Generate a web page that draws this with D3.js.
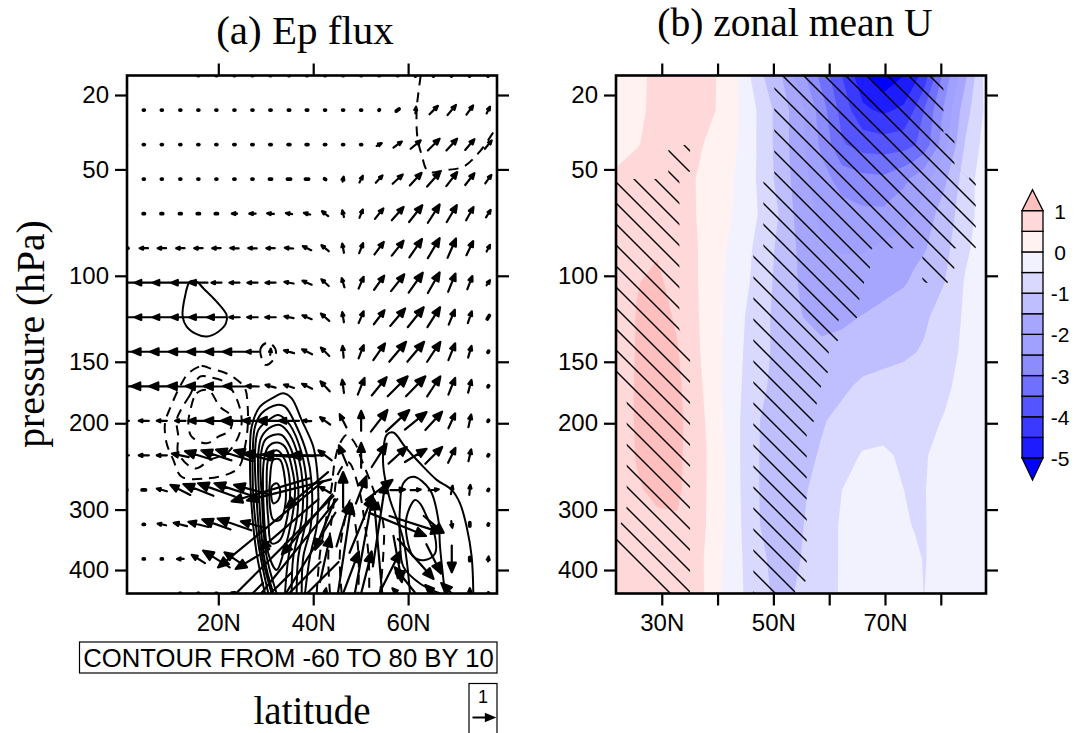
<!DOCTYPE html>
<html>
<head>
<meta charset="utf-8">
<script src="https://d3js.org/d3.v7.min.js"></script>
<style>
  html, body { margin: 0; background: #fff; }
  svg { display: block; }
  text { fill: #000; }
  .sans { font-family: "Liberation Sans", Arial, sans-serif; }
  .serif { font-family: "Liberation Serif", "Times New Roman", serif; }
</style>
</head>
<body>
<div id="chart"></div>
<script>
// Define svg container dimensions
var svgWidth = 1074;
var svgHeight = 733;

// Y axis: the levels are evenly spaced on the page, so everything is read in level index
var pressureTicks = [20, 50, 100, 150, 200, 300, 400];
var pressureTickLevels = [0.565, 2.72, 5.8, 8.29, 10.07, 12.57, 14.32];

// (a) vector columns, latitude
var vectorLats = [0.5, 4.3, 8.1, 12.0, 15.8, 19.6, 23.4, 27.2, 31.0, 34.9, 38.7, 42.5, 46.3, 50.1, 53.9, 57.8, 61.6, 65.4, 69.2, 73.0, 76.9];

// (a) EP flux, one row per level
var n = null;
var uRows = [
    [n, n, n, n, -.03, -.03, -.03, -.03, -.03, -.03, -.03, -.03, -.03, -.03, -.03, -.03, .03, .03, .03, .03, .03],
    [n, -.04, -.04, -.04, -.04, -.04, -.04, -.04, -.05, -.06, -.06, -.04, -.04, -.04, .02, .13, .03, .4, .4, .32, .16],
    [-.04, -.04, -.04, -.04, -.04, -.04, -.05, -.05, -.06, -.08, -.08, -.05, -.04, -.04, .24, .4, .48, .56, .51, .44, .32],
    [-.04, -.04, -.04, -.04, -.04, -.04, -.05, -.05, -.1, -.15, -.15, -.05, .05, .16, .32, .48, .56, .63, .52, .44, .29],
    [-.04, -.06, -.08, -.08, -.1, -.1, -.25, -.3, -.32, -.3, -.3, -.3, -.08, .16, .4, .56, .63, .56, .48, .35, .22],
    [-.2, -.4, -.4, -.4, -.4, -.4, -.4, -.4, -.4, -.4, -.4, -.35, -.08, .19, .44, .56, .6, .56, .4, .32, .16],
    [-.8, -.87, -.87, -.87, -.87, -.48, -.48, -.48, -.48, -.44, -.44, -.35, -.13, .24, .48, .63, .67, .56, .35, .24, .16],
    [-.8, -.87, -.87, -.87, -.87, -.87, -.5, -.5, -.5, -.44, -.44, -.4, -.08, .24, .51, .71, .76, .6, .29, .19, .1],
    [-1.1, -1.1, -1.1, -1.1, -1.1, -1.1, -1.1, -.6, .03, -.48, -.48, -.4, -.05, .24, .56, .8, .8, .63, .32, .16, .03],
    [-1.2, -1.2, -1.2, -1.2, -1.2, -1.2, -1.05, -.6, -.48, -.48, -.48, -.44, -.08, .32, .71, .95, .92, .63, .32, .16, .03],
    [-.3, -.48, -.48, -.5, -.95, -1.1, -1.27, -.95, -1.27, -.95, -.4, -.48, -.32, 0, .79, 1.11, 1.03, .8, .32, .13, .03],
    [-.3, -.48, -.48, -.8, -1.27, -1.43, -1.75, -1.75, -2.6, -2.5, -1.6, -.63, -.4, 0, .71, .87, 1.03, .8, .35, .13, .03],
    [-.1, -.16, -.48, -.95, -1.43, -1.75, -1.9, -1.75, -3.7, -4, -2, -.5, 0, .5, 1.27, .7, .48, .48, .08, .05, .03],
    [n, -.05, -.4, -.63, -.95, -1.35, -1.6, -1.1, -5, -2.8, -2.4, -.95, .63, 1.1, .6, 2.7, 2.5, .95, .05, 0, .02],
    [n, -.05, -.05, -.32, -.63, -1.27, -.95, -1.6, -6, -4.6, -2.7, .48, .8, 1.1, -.5, .4, 1.7, .7, 0, 0, .03],
    [n, n, n, -.05, -.05, -.05, -.3, -1, -2, -3, -3, .1, 1.5, 1, 2, -.5, -2, -.8, -1, 0, .02]
];
var vRows = [
    [n, n, n, n, 0, 0, 0, 0, 0, 0, 0, 0, 0, 0, 0, 0, .05, .05, .05, .05, .05],
    [n, 0, 0, 0, 0, 0, 0, 0, 0, 0, 0, 0, 0, 0, .02, .1, .32, .4, .48, .44, .32],
    [0, 0, 0, 0, 0, 0, 0, 0, 0, 0, 0, 0, 0, 0, .13, .29, .4, .56, .56, .51, .4],
    [0, 0, 0, 0, 0, 0, 0, 0, 0, 0, 0, .03, .24, .32, .35, .44, .6, .71, .67, .56, .4],
    [0, 0, 0, 0, 0, 0, 0, 0, .03, .05, .08, .24, .32, .4, .5, .63, .8, .87, .8, .63, .35],
    [0, 0, 0, 0, 0, 0, .02, .02, 0, .03, .19, .29, .44, .48, .6, .71, .87, .95, .92, .67, .32],
    [0, 0, 0, 0, 0, 0, 0, 0, 0, .08, .19, .32, .44, .56, .67, .8, .95, .98, .87, .63, .24],
    [0, 0, 0, 0, 0, 0, 0, 0, 0, .08, .19, .35, .48, .56, .67, .83, .95, .95, .71, .56, .16],
    [0, 0, 0, 0, 0, 0, 0, 0, .3, .13, .24, .4, .56, .63, .8, .95, .95, .95, .8, .56, .05],
    [0, 0, 0, .02, .02, .02, .02, .02, .13, .16, .24, .48, .63, .8, .87, .95, .95, .95, .8, .6, .05],
    [0, 0, 0, 0, 0, .02, 0, .02, 0, 0, .02, .35, .63, .95, 1.03, 1.03, .83, .87, .71, .6, .05],
    [0, 0, 0, .16, .4, .48, .55, .48, .16, .08, 0, .48, .95, 1.19, 1.11, .79, .63, .8, .71, .56, .05],
    [0, 0, .13, .48, .56, .63, .63, .48, -1.1, -1, -1.7, .3, 1.7, 1.3, .95, .03, .03, .05, .4, .48, .05],
    [n, 0, .08, .16, .24, .48, .56, .3, -4.1, -2.4, -2.86, -2.4, 2.1, 2.7, 4, -1.1, -.8, -.8, -.32, -.16, .05],
    [n, 0, 0, 0, .4, .8, .63, -.95, -6, -5.7, -4.4, 2.2, 5.3, 6, 5.7, -2.2, -1.9, -1.4, -1.27, -.16, .24],
    [n, n, n, 0, 0, 0, .1, -1, -2, -3, -3, .5, 4, 4, 4, .5, 2.5, .8, 1, .5, .05]
];

// (a) zonal wind contours as [latitude, level index]
var solidOpen = [
    [[29.84, 15], [28.08, 13.84], [27.03, 12.49], [26.68, 11.04], [27.03, 10.17], [28.78, 9.59], [31.95, 9.3], [33.7, 9.2], [35.46, 9.35], [37.57, 9.98], [40.02, 10.75], [40.87, 11.52], [41.08, 12.29], [40.73, 13.07], [39.32, 13.93], [38.27, 15]],
    [[30.54, 15], [28.78, 13.84], [27.52, 12.49], [27.24, 11.04], [27.73, 10.17], [29.14, 9.78], [32.3, 9.54], [34.05, 9.59], [36.51, 10.17], [38.62, 10.94], [39.67, 11.81], [39.46, 13.07], [37.92, 13.93], [37.57, 15]],
    [[31.24, 15], [29.14, 13.84], [28.08, 12.29], [27.73, 10.94], [28.43, 10.27], [30.54, 9.98], [32.65, 9.83], [35.1, 10.12], [37.57, 10.94], [38.62, 11.81], [38.48, 12.87], [36.87, 13.93], [36.51, 15]],
    [[31.6, 15], [29.63, 13.93], [28.64, 12.29], [28.43, 10.94], [29.14, 10.46], [31.24, 10.17], [33, 10.12], [35.1, 10.41], [36.87, 11.04], [37.78, 11.81], [37.57, 12.87], [35.81, 13.93], [35.46, 15]],
    [[32.3, 15], [30.05, 13.84], [29.21, 12.29], [28.93, 11.04], [29.84, 10.56], [31.6, 10.41], [33.35, 10.41], [35.1, 10.75], [36.37, 11.33], [36.87, 12], [36.51, 12.87], [34.8, 13.93], [34.05, 15]],
    [[73.74, 15], [73.39, 13.93], [72.34, 13.07], [70.93, 12.39], [69.18, 12], [66.02, 11.71], [62.5, 11.23], [59.34, 10.75], [56.88, 10.34], [55.48, 10.41], [54.78, 10.85], [54.78, 11.33], [55.48, 11.91], [56.2, 12.29], [58.99, 13.45], [60.4, 15]],
    [[67.77, 15], [66.72, 13.64], [66.37, 12.87], [64.61, 12], [61.1, 11.62], [58.99, 11.81], [58.29, 12.49], [58.29, 13.45], [58.99, 14.22], [62.5, 14.71], [66.72, 15]]
];
var solidClosed = [
    [[30.54, 13.84], [29.49, 12.29], [29.63, 11.13], [30.54, 10.75], [32.3, 10.63], [34.05, 10.75], [35.46, 11.33], [36.16, 12], [35.46, 12.87], [33.7, 13.84], [32.3, 14.32]],
    [[30.54, 12.87], [30.19, 11.91], [30.68, 11.04], [32.3, 10.85], [34.05, 11.13], [35.1, 11.81], [34.8, 12.58], [33, 13.45], [31.24, 13.55]],
    [[30.89, 12.49], [30.89, 11.71], [31.6, 11.13], [33, 11.13], [34.05, 11.71], [34.05, 12.49], [33, 12.87], [31.6, 12.87]],
    [[31.24, 11.91], [32.3, 11.81], [33, 12], [32.65, 12.29], [31.6, 12.39]],
    [[61.45, 12.29], [59.7, 12.77], [59.7, 13.35], [61.1, 13.93], [63.56, 14.03], [65.67, 13.84], [65.67, 13.35], [63.91, 12.77], [62.5, 12.39]],
    [[14.03, 5.97], [12.98, 6.4], [12.49, 6.98], [13.33, 7.27], [15.44, 7.49], [17.54, 7.56], [20, 7.42], [21.6, 7.18], [21.76, 6.94], [19.65, 6.55], [16.84, 6.16], [15.44, 5.97]]
];
var dashedOpen = [
    [[62.65, 0], [62.15, .52], [61.8, 1], [61.94, 1.77], [62.85, 2.3], [64.26, 2.78], [67.77, 2.74], [71.64, 2.64], [74.8, 2.25], [77.6, 1.72], [79, 1.39]],
    [[40.73, 15], [41.43, 13.84], [42.83, 12.77], [43.89, 11.91], [44.59, 11.13], [45.65, 10.65], [47.05, 10.41], [48.8, 10.65], [50.2, 11.13], [52.7, 12], [54.8, 13], [54.78, 13.84], [54.08, 15]],
    [[43.54, 15], [43.19, 13.84], [44.24, 12.49], [45.29, 11.52], [47.4, 11.2], [49.5, 11.9], [50.9, 13], [51.7, 14], [51.8, 15]],
    [[46, 15], [45.6, 13.9], [46.6, 12.9], [47.8, 12.3], [49, 13.1], [49.6, 14.1], [49.5, 15]]
];
var dashedClosed = [
    [[30.19, 7.74], [28.93, 7.9], [29.14, 8.19], [29.98, 8.38], [31.24, 8.29], [32.16, 8], [31.24, 7.78]],
    [[13.68, 8.63], [16.49, 8.41], [18.25, 8.48], [21.76, 8.63], [23.52, 8.77], [25.62, 9.06], [26.19, 9.59], [26.19, 10.17], [25.62, 10.75], [24.43, 11.33], [22.46, 11.52], [17.54, 11.67], [12.28, 11.62], [10.52, 11.13], [9.11, 10.65], [8.76, 10.07], [9.82, 9.64], [12.28, 8.91]],
    [[12.28, 9.64], [14.03, 9.25], [16.14, 8.72], [18.25, 8.74], [21.76, 8.91], [24.22, 9.49], [24.92, 10.07], [23.87, 10.56], [21.76, 10.94], [18.25, 11.13], [15.09, 11.38], [11.57, 10.94], [11.57, 10.46], [11.22, 9.98]],
    [[14.03, 9.74], [15.44, 9.2], [17.9, 9.11], [20.35, 9.59], [22.81, 9.88], [22.46, 10.27], [20, 10.46], [17.54, 10.65], [14.38, 10.46], [13.68, 10.07]]
];

// (b) zonal mean U anomaly, rows are levels, columns are gridLats
var gridLats = [21.8, 25.5, 29.2, 32.8, 36.5, 40.2, 43.9, 47.6, 51.3, 54.9, 58.6, 62.3, 66, 69.7, 73.4, 75.2, 77, 80.7, 84.4, 88.1];
var uGrid = [
    [.3, .4, .6, .7, .65, .48, -.05, -.9, -1.45, -2.3, -3.15, -4, -4.85, -5.4, -5, -4.7, -4.3, -2.8, -1.6, -.3],
    [.3, .42, .6, .7, .62, .48, -.02, -.6, -1.25, -1.85, -2.75, -3.7, -4.4, -4.6, -4.4, -4, -3.5, -2.4, -1.2, -.4],
    [.3, .48, .6, .6, .55, .35, -.03, -.6, -1.25, -1.85, -2.6, -3.45, -3.7, -3.75, -3.7, -3.55, -3.3, -2.2, -.95, -.3],
    [.6, .65, .7, .65, .48, .22, -.08, -.6, -1.2, -1.8, -2.3, -2.7, -2.85, -2.9, -2.6, -2.4, -2.15, -1.6, -.75, -.2],
    [.7, .8, .85, .7, .48, .2, -.1, -.55, -1.05, -1.75, -2.1, -2.3, -2.4, -2.4, -2.2, -2, -1.8, -1.25, -.75, -.2],
    [.7, .85, .95, .72, .5, .15, -.25, -.65, -1.15, -1.6, -1.95, -2.05, -2.05, -1.9, -1.75, -1.65, -1.55, -1.15, -.6, -.2],
    [.7, .98, 1.1, .8, .5, .1, -.3, -.7, -1.2, -1.55, -1.7, -1.75, -1.75, -1.7, -1.55, -1.4, -1.25, -1, -.45, -.15],
    [.7, 1.02, 1.15, .95, .52, .1, -.38, -.82, -1.18, -1.48, -1.65, -1.58, -1.48, -1.32, -1.18, -1.13, -1.08, -.78, -.43, -.15],
    [.7, 1.03, 1.2, 1.03, .55, .08, -.42, -.85, -1.15, -1.3, -1.38, -1.35, -1.25, -1.2, -1.1, -1.02, -.95, -.65, -.42, -.15],
    [.7, 1.05, 1.25, 1.1, .62, .08, -.45, -.92, -1.15, -1.25, -1.2, -1.1, -.9, -.8, -.75, -.72, -.7, -.58, -.35, -.1],
    [.7, 1.05, 1.2, 1.12, .7, .12, -.48, -1, -1.15, -1.2, -1.05, -.85, -.75, -.7, -.68, -.65, -.62, -.47, -.3, -.1],
    [.7, 1.03, 1.15, 1.1, .72, .2, -.48, -1.02, -1.15, -1.17, -.95, -.7, -.46, -.42, -.58, -.55, -.52, -.42, -.25, -.1],
    [.7, .95, 1.1, 1.08, .7, .2, -.47, -1.02, -1.15, -1.1, -.8, -.5, -.35, -.35, -.5, -.51, -.51, -.4, -.2, -.1],
    [.6, .75, .9, .95, .7, .18, -.45, -1, -1.1, -1.05, -.72, -.45, -.35, -.3, -.45, -.52, -.52, -.35, -.2, -.1],
    [.6, .7, .75, .8, .65, .1, -.42, -.95, -1.1, -1, -.72, -.45, -.3, -.3, -.38, -.42, -.52, -.35, -.2, -.1],
    [.55, .65, .7, .72, .68, .06, -.4, -.9, -1.1, -.95, -.7, -.45, -.3, -.28, -.35, -.42, -.505, -.3, -.2, -.1]
];

// (b) significant areas as [latitude, level index]
var hatchAreas = [
    [[21.7, 3], [31.18, 3], [31.18, 2.16], [33.99, 2.01], [35.07, 2.01], [35.07, 2.79], [33.16, 2.79], [33.16, 7.37], [35.07, 7.9], [35.07, 15], [21.7, 15], [21.7, 13.21], [23.24, 12.82], [23.72, 12.49], [23.72, 9.11], [21.7, 8.91]],
    [[50.18, 0], [80.47, 0], [80.47, 1.68], [82.44, 1.68], [82.44, 2.59], [86.26, 3.21], [86.26, 5], [82.44, 5], [82.44, 5.58], [81.24, 6], [76.7, 6], [76.7, 5], [75.09, 5], [67.62, 5], [67.33, 5.55], [66.25, 6], [65.41, 6.47], [64.94, 7.03], [61.65, 7.08], [61.65, 7.66], [59.92, 7.97], [59.8, 8.58], [58.54, 9], [57.77, 9.49], [57.29, 10], [55.97, 10.39], [55.97, 14.61], [53.88, 14.95], [53.88, 15], [46.42, 15], [46.42, 5.1], [48.21, 5.1], [48.21, 3.07], [50.18, 3.07]],
    [[85.1, 2.93], [86.26, 2.93], [86.26, 3.2], [85.1, 3.2]]
];

// Colour bar
var bandBreaks = [-5, -4.5, -4, -3.5, -3, -2.5, -2, -1.5, -1, -.5, 0, .5, 1];
var bandColors = ["#0000ff", "#1c1cff", "#3939ff", "#5555ff", "#7070ff", "#8c8cff", "#a0a0ff", "#a6a6ff", "#bfbfff", "#d9d9ff", "#f2f2ff", "#fff2f0", "#ffd9d9", "#ffbfbf"];
var barLabels = [1, 0, -1, -2, -3, -4, -5];

var svg = d3.select("#chart").append("svg")
    .attr("width", svgWidth)
    .attr("height", svgHeight);

var defs = svg.append("defs");

// Scales
var yLevel = d3.scaleLinear().domain([0, 15]).range([75.5, 593.5]);
var yPressure = d3.scaleLinear().domain(pressureTicks).range(pressureTickLevels.map(yLevel));
var xA = d3.scaleLinear().domain([0.76, 78.73]).range([127, 497]);
var xB = d3.scaleLinear().domain([21.8, 88.1]).range([616, 986]);
var vectorScale = d3.scaleLinear().domain([0, 1]).range([0, 21]);
var barScale = d3.scaleLinear().domain([-5, 1]).range([458, 210.7]);

function addClip(id, x) {
    defs.append("clipPath").attr("id", id)
        .append("rect")
        .attr("x", x.range()[0]).attr("y", yLevel(0))
        .attr("width", x.range()[1] - x.range()[0])
        .attr("height", yLevel(15) - yLevel(0));
}
addClip("clipA", xA);
addClip("clipB", xB);

// Arrow outline: shaft plus a head, centred on the grid point
function arrowPath(cx, cy, u, v) {
    var dx = vectorScale(u), dy = -vectorScale(v);
    var len = Math.sqrt(dx * dx + dy * dy) || 1;
    var ux = dx / len, uy = dy / len;
    var tipX = cx + dx / 2, tipY = cy + dy / 2;
    // very short arrows are just a blob, see drawArrows
    if (len < 5) return `M${cx - dx / 2},${cy - dy / 2}L${tipX},${tipY}`;
    var head = Math.max(3.5, Math.min(10.5, len * 0.36));
    var half = head * 0.42;
    var baseX = tipX - ux * head, baseY = tipY - uy * head;
    return `M${cx - dx / 2},${cy - dy / 2}L${baseX},${baseY}` +
        `M${tipX},${tipY}L${baseX - uy * half},${baseY + ux * half}L${baseX + uy * half},${baseY - ux * half}Z`;
}

// Panel (a)
var panelA = svg.append("g");
var plotA = panelA.append("g").attr("clip-path", "url(#clipA)");

var lineA = d3.line().x(d => xA(d[0])).y(d => yLevel(d[1]));

function drawContours(rows, curve, dashed) {
    plotA.selectAll(null)
        .data(rows)
        .enter()
        .append("path")
        .attr("d", lineA.curve(curve))
        .attr("fill", "none")
        .attr("stroke", "#000")
        .attr("stroke-width", 2)
        .attr("stroke-dasharray", dashed ? "10,7" : null);
}
drawContours(solidOpen, d3.curveCatmullRom, false);
drawContours(solidClosed, d3.curveCatmullRomClosed, false);
drawContours(dashedOpen, d3.curveCatmullRom, true);
drawContours(dashedClosed, d3.curveCatmullRomClosed, true);

var arrows = [];
uRows.forEach(function (row, i) {
    row.forEach(function (u, j) {
        if (u === null) return;
        var v = vRows[i][j];
        arrows.push({
            d: arrowPath(xA(vectorLats[j]), yLevel(i), u, v),
            short: Math.sqrt(u * u + v * v) < 5 / 21
        });
    });
});
plotA.selectAll(null)
    .data(arrows)
    .enter()
    .append("path")
    .attr("d", d => d.d)
    .attr("fill", "#000")
    .attr("stroke", "#000")
    .attr("stroke-width", d => d.short ? 3.8 : 2.2)
    .attr("stroke-linecap", "round")
    .attr("stroke-linejoin", "round");

// Panel (b)
var panelB = svg.append("g");
var plotB = panelB.append("g").attr("clip-path", "url(#clipB)");

var gridCol = d3.scaleLinear().domain(d3.range(gridLats.length)).range(gridLats);
var gridPath = d3.geoPath(d3.geoTransform({
    point: function (x, y) {
        this.stream.point(xB(gridCol(x - 0.5)), yLevel(y - 0.5));
    }
}));

plotB.append("rect")
    .attr("x", xB.range()[0]).attr("y", yLevel(0))
    .attr("width", xB.range()[1] - xB.range()[0])
    .attr("height", yLevel(15) - yLevel(0))
    .attr("fill", bandColors[0]);

var bands = d3.contours()
    .size([gridLats.length, uGrid.length])
    .thresholds(bandBreaks)(uGrid.flat());

plotB.selectAll(null)
    .data(bands)
    .enter()
    .append("path")
    .attr("d", gridPath)
    .attr("fill", (d, i) => bandColors[i + 1]);

// Hatching over the significant areas
var hatchClip = defs.append("clipPath").attr("id", "hatchClip");
var lineB = d3.line().x(d => xB(d[0])).y(d => yLevel(d[1]));
hatchClip.selectAll(null)
    .data(hatchAreas)
    .enter()
    .append("path")
    .attr("d", d => lineB(d) + "Z");

var hatchOuter = plotB.append("g");
var hatch = hatchOuter.append("g").attr("clip-path", "url(#hatchClip)");
d3.range(-30, 30).forEach(function (k) {
    var x0 = xB.range()[0], x1 = xB.range()[1];
    hatch.append("line")
        .attr("x1", x0).attr("y1", x0 - 686 + 21 * k)
        .attr("x2", x1).attr("y2", x1 - 686 + 21 * k)
        .attr("stroke", "#000")
        .attr("stroke-width", 1.4);
});

// Frames and axes
function drawAxes(g, x, latTicks, labelled) {
    var h = yLevel(15), t = yLevel(0), l = x.range()[0], r = x.range()[1];
    var bottomAxis = d3.axisBottom(x).tickValues(latTicks).tickSize(12).tickPadding(8)
        .tickFormat(d => labelled.indexOf(d) >= 0 ? d + "N" : "");
    var topAxis = d3.axisTop(x).tickValues(latTicks).tickSize(12).tickFormat("");
    var leftAxis = d3.axisLeft(yPressure).tickValues(pressureTicks).tickSize(12).tickPadding(6);
    var rightAxis = d3.axisRight(yPressure).tickValues(pressureTicks).tickSize(12).tickFormat("");

    [[bottomAxis, 0, h], [topAxis, 0, t], [leftAxis, l, 0], [rightAxis, r, 0]].forEach(function (a) {
        var ag = g.append("g")
            .attr("transform", `translate(${a[1]}, ${a[2]})`)
            .attr("class", "sans")
            .call(a[0]);
        ag.select(".domain").remove();
        ag.selectAll(".tick line").attr("stroke", "#000").attr("stroke-width", 2.2);
        ag.selectAll("text").attr("font-size", 24).attr("fill", "#000");
    });

    g.append("rect")
        .attr("x", l).attr("y", t)
        .attr("width", r - l).attr("height", h - t)
        .attr("fill", "none")
        .attr("stroke", "#000")
        .attr("stroke-width", 2.6);
}
drawAxes(panelA, xA, [20, 40, 60], [20, 40, 60]);
drawAxes(panelB, xB, [30, 40, 50, 60, 70, 80], [30, 50, 70]);

// Titles
svg.append("text").attr("class", "serif").attr("x", 305).attr("y", 44)
    .attr("text-anchor", "middle").attr("font-size", 41).text("(a) Ep flux");
svg.append("text").attr("class", "serif").attr("x", 795).attr("y", 36)
    .attr("text-anchor", "middle").attr("font-size", 39.5).text("(b) zonal mean U");
svg.append("text").attr("class", "serif")
    .attr("transform", "translate(44, 334) rotate(-90)")
    .attr("text-anchor", "middle").attr("font-size", 39.6).text("pressure (hPa)");
svg.append("text").attr("class", "serif").attr("x", 312).attr("y", 724.2)
    .attr("text-anchor", "middle").attr("font-size", 39).text("latitude");

// Contour info label
svg.append("rect")
    .attr("x", 79.5).attr("y", 642)
    .attr("width", 417.5).attr("height", 31)
    .attr("fill", "#fff").attr("stroke", "#000").attr("stroke-width", 1.2);
svg.append("text").attr("class", "sans").attr("x", 288.5).attr("y", 667)
    .attr("text-anchor", "middle").attr("font-size", 25.7).text("CONTOUR FROM -60 TO 80 BY 10");

// Reference vector
svg.append("rect")
    .attr("x", 469).attr("y", 683.5)
    .attr("width", 28).attr("height", 60)
    .attr("fill", "#fff").attr("stroke", "#000").attr("stroke-width", 1.2);
svg.append("text").attr("class", "sans").attr("x", 483).attr("y", 703)
    .attr("text-anchor", "middle").attr("font-size", 18).text("1");
svg.append("path")
    .attr("d", arrowPath(483, 717.5, 1, 0))
    .attr("fill", "#000").attr("stroke", "#000").attr("stroke-width", 2.2);

// Colour bar
var barLeft = 1022, barRight = 1043;
var bar = svg.append("g");
bandColors.slice(1, -1).forEach(function (c, i) {
    bar.append("rect")
        .attr("x", barLeft).attr("y", barScale(bandBreaks[i + 1]))
        .attr("width", barRight - barLeft)
        .attr("height", barScale(bandBreaks[i]) - barScale(bandBreaks[i + 1]))
        .attr("fill", c)
        .attr("stroke", "#000")
        .attr("stroke-width", 1.3);
});
bar.append("path")
    .attr("d", `M${barLeft},${barScale(1)}L${(barLeft + barRight) / 2},${barScale(1) - 21}L${barRight},${barScale(1)}Z`)
    .attr("fill", bandColors[bandColors.length - 1]).attr("stroke", "#000").attr("stroke-width", 1.3);
bar.append("path")
    .attr("d", `M${barLeft},${barScale(-5)}L${(barLeft + barRight) / 2},${barScale(-5) + 22}L${barRight},${barScale(-5)}Z`)
    .attr("fill", bandColors[0]).attr("stroke", "#000").attr("stroke-width", 1.3);
bar.selectAll(null)
    .data(barLabels)
    .enter()
    .append("text")
    .attr("class", "sans")
    .attr("x", 1060)
    .attr("y", d => barScale(d) + 8)
    .attr("text-anchor", "middle")
    .attr("font-size", 21)
    .text(d => d);
</script>
</body>
</html>
